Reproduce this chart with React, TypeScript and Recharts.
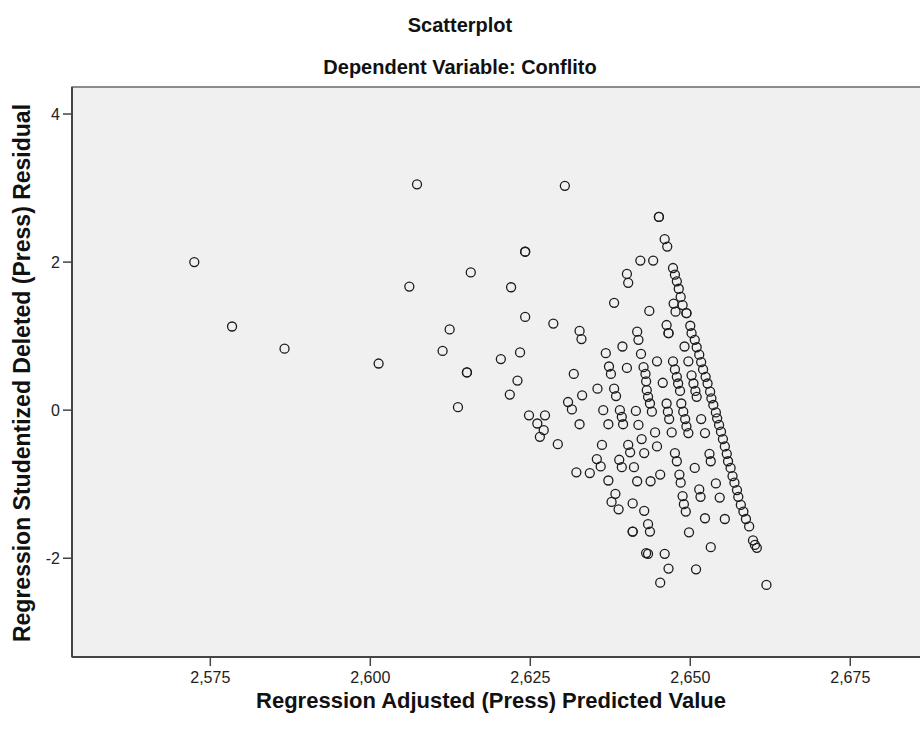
import React from 'react'
import {
  ScatterChart, Scatter, XAxis, YAxis, CartesianGrid, ReferenceArea,
} from 'recharts'

// sparse points on the left
const leftX = [
  2.5725, 2.5784, 2.5866, 2.6013, 2.6073, 2.6061, 2.6157, 2.6124, 2.6113, 2.6151,
  2.6151, 2.6137, 2.6220, 2.6242, 2.6242, 2.6242, 2.6204, 2.6234, 2.6230, 2.6218,
  2.6248, 2.6273, 2.6304,
]
const leftY = [
  2.00, 1.13, 0.83, 0.63, 3.05, 1.67, 1.86, 1.09, 0.80, 0.51,
  0.51, 0.04, 1.66, 2.14, 2.14, 1.26, 0.69, 0.78, 0.40, 0.21,
  -0.07, -0.07, 3.03,
]

// middle cloud
const midX = [
  2.6261, 2.6271, 2.6265, 2.6293, 2.6286, 2.6327, 2.6330, 2.6318, 2.6331, 2.6309,
  2.6315, 2.6327, 2.6322, 2.6343, 2.6355, 2.6368, 2.6373, 2.6376, 2.6364, 2.6372,
  2.6362, 2.6354, 2.6360, 2.6372, 2.6383, 2.6377, 2.6388, 2.6381, 2.6381, 2.6384,
  2.6390, 2.6393, 2.6395, 2.6389, 2.6393, 2.6394, 2.6401, 2.6403, 2.6401, 2.6403,
  2.6406, 2.6410, 2.6410, 2.6410, 2.6412, 2.6415, 2.6417, 2.6419, 2.6419, 2.6417,
  2.6422, 2.6423, 2.6424, 2.6427, 2.6430, 2.6431, 2.6432, 2.6434, 2.6437, 2.6440,
  2.6428, 2.6428, 2.6434, 2.6437, 2.6431, 2.6434, 2.6436, 2.6438, 2.6442, 2.6445,
  2.6448, 2.6448, 2.6453, 2.6453, 2.6457,
]
const midY = [
  -0.18, -0.27, -0.36, -0.46, 1.17, 1.07, 0.96, 0.49, 0.20, 0.11,
  0.01, -0.19, -0.84, -0.85, 0.29, 0.77, 0.59, 0.49, 0.00, -0.19,
  -0.47, -0.66, -0.76, -0.95, -1.13, -1.24, -1.34, 1.45, 0.29, 0.19,
  0.00, -0.09, -0.19, -0.67, -0.77, 0.86, 1.84, 1.72, 0.57, -0.47,
  -0.57, -1.26, -1.64, -1.64, -0.77, -0.01, 1.06, 0.95, -0.20, -0.96,
  2.02, 0.76, -0.39, 0.58, 0.49, 0.39, 0.27, 0.18, 0.09, -0.02,
  -0.58, -1.36, -1.54, -1.64, -1.93, -1.94, 1.34, -0.96, 2.02, -0.30,
  0.66, -0.49, -0.87, -2.33, 0.37,
]

// right cloud
const rightX = [
  2.6451, 2.6451, 2.6460, 2.6464, 2.6463, 2.6466, 2.6466, 2.6463, 2.6465, 2.6467,
  2.6471, 2.6460, 2.6466, 2.6473, 2.6476, 2.6479, 2.6482, 2.6485, 2.6488, 2.6494,
  2.6494, 2.6474, 2.6477, 2.6473, 2.6476, 2.6479, 2.6481, 2.6484, 2.6476, 2.6479,
  2.6483, 2.6485, 2.6486, 2.6489, 2.6492, 2.6494, 2.6497, 2.6488, 2.6490, 2.6493,
  2.6491, 2.6497, 2.6498, 2.6502, 2.6505, 2.6508, 2.6510, 2.6507, 2.6509, 2.6514,
  2.6516, 2.6517, 2.6523, 2.6523, 2.6530, 2.6532, 2.6532, 2.6540, 2.6546, 2.6554,
]
const rightY = [
  2.61, 2.61, 2.31, 2.21, 1.15, 1.04, 1.04, 0.09, -0.02, -0.12,
  -0.30, -1.94, -2.14, 1.92, 1.83, 1.74, 1.64, 1.53, 1.42, 1.31,
  1.31, 1.44, 1.33, 0.66, 0.55, 0.45, 0.36, 0.26, -0.58, -0.69,
  -0.87, -0.98, 0.09, -0.02, -0.12, -0.22, -0.31, -1.16, -1.27, -1.37,
  0.86, 0.66, -1.65, 0.47, 0.36, 0.26, 0.18, -0.78, -2.15, -1.07,
  -1.17, -0.12, -0.31, -1.46, -0.59, -0.69, -1.85, -0.99, -1.18, -1.47,
]

// the dense diagonal edge
const edgeX = [
  2.6500, 2.6502, 2.6507, 2.6510, 2.6514, 2.6517, 2.6520, 2.6524, 2.6527, 2.6531,
  2.6533, 2.6536, 2.6540, 2.6542, 2.6545, 2.6548, 2.6551, 2.6554, 2.6557, 2.6559,
  2.6563, 2.6566, 2.6569, 2.6573, 2.6575, 2.6579, 2.6583, 2.6587, 2.6592, 2.6598,
  2.6601, 2.6604, 2.6619,
]
const edgeY = [
  1.14, 1.04, 0.95, 0.85, 0.75, 0.65, 0.55, 0.45, 0.36, 0.25,
  0.16, 0.07, -0.03, -0.11, -0.20, -0.29, -0.39, -0.49, -0.59, -0.69,
  -0.78, -0.89, -0.98, -1.08, -1.17, -1.28, -1.37, -1.47, -1.57, -1.76,
  -1.82, -1.86, -2.36,
]

const xTicks = [2.575, 2.6, 2.625, 2.65, 2.675]
const yTicks = [-2, 0, 2, 4]
const xDomain = [2.55339, 2.68902]
const yDomain = [-3.334, 4.365]

const xs = [...leftX, ...midX, ...rightX, ...edgeX]
const ys = [...leftY, ...midY, ...rightY, ...edgeY]
const points = xs.map((x, i) => ({ x, y: ys[i] }))

const FONT = '"Liberation Sans", Arial, sans-serif'

const Ring = (props: any) => (
  <circle cx={props.cx} cy={props.cy} r={4.5} fill="none" stroke="#1c1c1c" strokeWidth={1.3} />
)

export default function App() {
  return (
    <div style={{ position: 'fixed', top: 0, left: 0, width: 920, height: 731, overflow: 'hidden', background: '#fff' }}>
      <ScatterChart width={960} height={731} margin={{ top: 87, right: 20, bottom: 34, left: 0 }}>
        <CartesianGrid fill="#f0f0f0" horizontal={false} vertical={false} />
        <ReferenceArea
          x1={xDomain[0]} x2={xDomain[1]} y1={yDomain[0]} y2={yDomain[1]}
          fill="none" stroke="#6a6a6a" strokeWidth={1.5}
        />
        <XAxis
          type="number" dataKey="x" domain={xDomain} ticks={xTicks} allowDataOverflow
          height={40} tickSize={9} tickMargin={6}
          axisLine={{ stroke: '#444', strokeWidth: 2 }}
          tickLine={{ stroke: '#444', strokeWidth: 1.5 }}
          tick={{ fontSize: 16, fill: '#222', fontFamily: FONT }}
          tickFormatter={(v: number) => v.toFixed(3).replace('.', ',')}
        />
        <YAxis
          type="number" dataKey="y" domain={yDomain} ticks={yTicks} allowDataOverflow
          width={72} tickSize={9} tickMargin={3}
          axisLine={{ stroke: '#444', strokeWidth: 2 }}
          tickLine={{ stroke: '#444', strokeWidth: 1.5 }}
          tick={{ fontSize: 16, fill: '#222', fontFamily: FONT }}
        />
        <Scatter data={points} shape={Ring} isAnimationActive={false} />
      </ScatterChart>
      <svg width={920} height={731} style={{ position: 'absolute', top: 0, left: 0, pointerEvents: 'none' }}>
        <g fontFamily={FONT} fontWeight="bold" fill="#111" textAnchor="middle">
          <text x={460} y={32} fontSize={20}>Scatterplot</text>
          <text x={460} y={74} fontSize={20}>Dependent Variable: Conflito</text>
          <text x={491} y={708} fontSize={22}>Regression Adjusted (Press) Predicted Value</text>
          <text x={30} y={373} fontSize={23} transform="rotate(-90 30 373)">Regression Studentized Deleted (Press) Residual</text>
        </g>
      </svg>
    </div>
  )
}
